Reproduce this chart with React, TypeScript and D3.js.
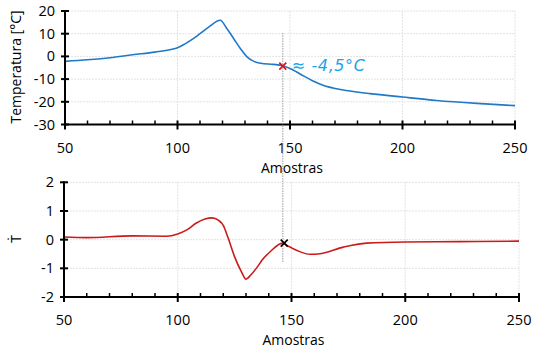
import React, { useEffect, useRef } from "react";
import * as d3 from "d3";

// temperature curve (samples vs °C)
const tempSamples = [50, 60, 70, 80, 90, 97, 100, 103, 107, 110, 114, 119, 122, 125, 128, 131, 134, 137, 142.6, 146.8, 150, 153, 156, 160, 165, 170, 175, 185.6, 200, 215.2, 233, 250];
const tempValues = [-2.2, -1.5, -0.6, 0.7, 1.9, 3, 3.8, 5.3, 7.8, 10, 13, 15.9, 12.2, 7.8, 3.4, -0.3, -2.2, -3, -3.5, -4.1, -5.3, -6.9, -8.6, -10.7, -12.8, -14.1, -15, -16.4, -17.9, -19.4, -20.7, -21.7];

// derivative curve
const derivSamples = [50, 60, 80, 95, 100, 104, 108, 112, 115, 118, 120, 122, 125, 128, 130, 132, 135, 137, 140.5, 146.1, 148, 153, 158.2, 162.6, 172.8, 183, 200, 224, 250];
const derivValues = [0.09, 0.07, 0.13, 0.12, 0.2, 0.34, 0.57, 0.72, 0.76, 0.67, 0.5, 0.09, -0.6, -1.12, -1.38, -1.24, -0.95, -0.72, -0.43, -0.12, -0.2, -0.4, -0.51, -0.49, -0.26, -0.12, -0.08, -0.07, -0.05];

const xTicks = [50, 100, 150, 200, 250];
const tempTicks = [20, 10, 0, -10, -20, -30];
const derivTicks = [2, 1, 0, -1, -2];
const markSample = 146.8;
const markTemp = -4.3;
const markDeriv = -0.12;
const note = "≈ -4,5°C";

const FONT = "'Open Sans', sans-serif";

const App = () => {
  const svgRef = useRef<SVGSVGElement>(null);

  useEffect(() => {
    const svg = d3.select(svgRef.current);
    svg.selectAll("*").remove();

    const drawPanel = (
      xRange: [number, number],
      yRange: [number, number],
      yDomain: [number, number],
      yTicks: number[],
      xs: number[],
      ys: number[],
      color: string,
      ylabel: string,
      labelY: number
    ) => {
      const x = d3.scaleLinear().domain([50, 250]).range(xRange);
      const y = d3.scaleLinear().domain(yDomain).range(yRange);
      const g = svg.append("g");

      // gridlines
      g.selectAll(".hg")
        .data(yTicks.slice(0, -1))
        .enter()
        .append("line")
        .attr("x1", xRange[0])
        .attr("x2", xRange[1])
        .attr("y1", (d) => y(d))
        .attr("y2", (d) => y(d))
        .attr("stroke", "#e3e3e3")
        .attr("stroke-dasharray", "2,1");
      g.selectAll(".vg")
        .data(xTicks.slice(1))
        .enter()
        .append("line")
        .attr("x1", (d) => x(d))
        .attr("x2", (d) => x(d))
        .attr("y1", yRange[1])
        .attr("y2", yRange[0])
        .attr("stroke", "#e3e3e3")
        .attr("stroke-dasharray", "2,1");

      // curve
      const line = d3
        .line<number>()
        .x((d, i) => x(xs[i]))
        .y((d) => y(d))
        .curve(d3.curveMonotoneX);
      g.append("path")
        .attr("d", line(ys))
        .attr("fill", "none")
        .attr("stroke", color)
        .attr("stroke-width", 1.6);

      // axes
      const yAxis = g.append("g").attr("transform", `translate(${xRange[0]},0)`);
      yAxis.append("line").attr("y1", yRange[0] + 1).attr("y2", yRange[1] - 1).attr("stroke", "#000").attr("stroke-width", 2);
      yTicks.forEach((t) => {
        yAxis.append("line").attr("x1", -4).attr("x2", 4).attr("y1", y(t)).attr("y2", y(t)).attr("stroke", "#000").attr("stroke-width", 2);
        yAxis
          .append("text")
          .attr("x", -10)
          .attr("y", y(t))
          .attr("dy", "0.35em")
          .attr("text-anchor", "end")
          .style("font-family", FONT)
          .style("font-size", "14.5px")
          .text(t);
      });

      const xAxis = g.append("g").attr("transform", `translate(0,${yRange[0]})`);
      xAxis.append("line").attr("x1", xRange[0]).attr("x2", xRange[1]).attr("stroke", "#000").attr("stroke-width", 2);
      d3.range(60, 250, 10)
        .filter((t) => t % 50 !== 0)
        .forEach((t) => {
          xAxis.append("line").attr("x1", x(t)).attr("x2", x(t)).attr("y1", 0).attr("y2", -4).attr("stroke", "#000").attr("stroke-width", 1.5);
        });
      xTicks.forEach((t) => {
        xAxis.append("line").attr("x1", x(t)).attr("x2", x(t)).attr("y1", -4).attr("y2", 5).attr("stroke", "#000").attr("stroke-width", 2);
        xAxis
          .append("text")
          .attr("x", x(t))
          .attr("y", 28)
          .attr("text-anchor", "middle")
          .style("font-family", FONT)
          .style("font-size", "14.5px")
          .text(t);
      });
      xAxis
        .append("text")
        .attr("x", (xRange[0] + xRange[1]) / 2 + 2)
        .attr("y", 48)
        .attr("text-anchor", "middle")
        .style("font-family", FONT)
        .style("font-size", "14px")
        .text("Amostras");

      g.append("text")
        .attr("transform", `translate(21,${labelY}) rotate(-90)`)
        .attr("text-anchor", "middle")
        .style("font-family", FONT)
        .style("font-size", "14px")
        .text(ylabel);

      return { x, y, g };
    };

    const top = drawPanel([65, 515], [124.5, 11], [-30, 20], tempTicks, tempSamples, tempValues, "#1f78c8", "Temperatura [°C]", 67);
    const bot = drawPanel([64, 519], [297, 182.3], [-2, 2], derivTicks, derivSamples, derivValues, "#cc1a1a", "Ṫ", 239);

    // vertical dotted reference line spanning both panels
    const mx = top.x(markSample);
    svg
      .append("line")
      .attr("x1", mx)
      .attr("x2", mx)
      .attr("y1", 33)
      .attr("y2", 262)
      .attr("stroke", "#888")
      .attr("stroke-width", 0.8)
      .attr("stroke-dasharray", "1.5,1");

    const cross = (cx: number, cy: number, color: string) => {
      const s = 3.5;
      svg.append("path")
        .attr("d", `M${cx - s},${cy - s}L${cx + s},${cy + s}M${cx - s},${cy + s}L${cx + s},${cy - s}`)
        .attr("stroke", color)
        .attr("stroke-width", 1.6);
    };
    cross(mx, top.y(markTemp), "#e01010");
    cross(bot.x(markSample), bot.y(markDeriv), "#000");

    svg
      .append("text")
      .attr("x", mx + 9)
      .attr("y", top.y(markTemp) + 5)
      .style("font-family", "'DejaVu Sans', sans-serif")
      .style("font-style", "italic")
      .style("font-size", "16px")
      .style("letter-spacing", "0.6px")
      .attr("fill", "#1aa3e8")
      .text(note);
  }, []);

  return <svg ref={svgRef} width={533} height={352} style={{ position: "absolute", left: 0, top: 0 }}></svg>;
};

export default App;
